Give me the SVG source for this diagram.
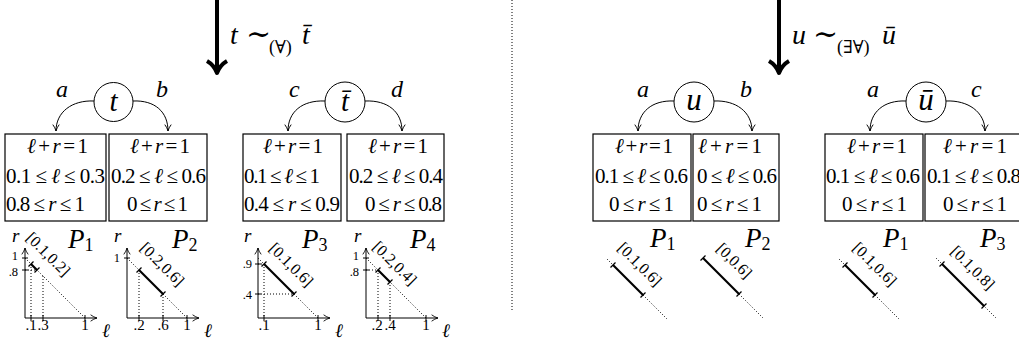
<svg xmlns="http://www.w3.org/2000/svg" width="1019" height="347" viewBox="0 0 1019 347" font-family="'Liberation Serif', 'DejaVu Serif', serif">
<style>
text{font-family:'Liberation Serif','DejaVu Serif',serif;fill:#000}
.i{font-style:italic}
.bx{fill:none;stroke:#000;stroke-width:1.2}
.row{font-size:21px}
.arc{fill:none;stroke:#000;stroke-width:1;marker-end:url(#vee)}
.big{fill:none;stroke:#000;stroke-width:4}
.dot{fill:none;stroke:#000;stroke-width:1;stroke-dasharray:1 2}
.seg{fill:none;stroke:#000;stroke-width:2.2}
.bar{stroke:#000;stroke-width:1.3}
.ax{stroke:#000;stroke-width:1;marker-end:url(#ax)}
.tk{stroke:#000;stroke-width:1}
.num{font-size:15px;text-anchor:middle}
.numr{font-size:12.5px;text-anchor:end}
.lab{font-size:16px;text-anchor:middle}
.ptl{font-size:27px;font-style:italic}
.sub{font-size:18px;font-style:normal}
.node{fill:#fff;stroke:#000;stroke-width:1}
</style>
<defs>
<marker id="vee" viewBox="0 0 10 10" refX="9" refY="5" markerWidth="8" markerHeight="8" orient="auto" markerUnits="userSpaceOnUse">
<path d="M1,1 Q5,4 9,5 Q5,6 1,9" fill="none" stroke="#000" stroke-width="1.2"/>
</marker>
<marker id="ax" viewBox="0 0 10 10" refX="9" refY="5" markerWidth="8" markerHeight="8" orient="auto" markerUnits="userSpaceOnUse">
<path d="M1,1 Q5,4 9,5 Q5,6 1,9" fill="none" stroke="#000" stroke-width="1.1"/>
</marker>
</defs>

<!-- separator -->
<line x1="512" y1="0" x2="512" y2="310" class="dot" stroke="#888"/>

<!-- big arrows and labels -->
<g id="step-left">
<line x1="217" y1="0" x2="217" y2="70" class="big"/>
<path d="M207,61 Q214,65 217,73 Q220,65 227,61" class="big" stroke-linejoin="round"/>
<text x="230" y="44" font-size="28"><tspan class="i">t</tspan><tspan x="246" font-size="30">∼</tspan><tspan x="269" y="53" font-size="18">(∀)</tspan><tspan x="302" y="44" class="i">t̄</tspan></text>
</g>
<g id="step-right">
<line x1="779" y1="0" x2="779" y2="70" class="big"/>
<path d="M769,61 Q776,65 779,73 Q782,65 789,61" class="big" stroke-linejoin="round"/>
<text x="792" y="44" font-size="28"><tspan class="i">u</tspan><tspan x="813" font-size="30">∼</tspan><tspan x="837" y="53" font-size="18">(∃∀)</tspan><tspan x="882" y="44" class="i">ū</tspan></text>
</g>

<!-- connectors -->
<g id="connectors">
<path d="M94,101 C72,100 56,112 56,131" class="arc"/>
<path d="M133,101 C155,100 168,112 168,131" class="arc"/>
<path d="M325,101 C302,100 288,112 288,131" class="arc"/>
<path d="M365,101 C388,100 402,112 402,131" class="arc"/>
<path d="M674,101 C652,100 638,112 638,131" class="arc"/>
<path d="M714,101 C736,100 752,112 752,131" class="arc"/>
<path d="M906,101 C884,100 870,112 870,131" class="arc"/>
<path d="M946,101 C968,100 985,112 985,131" class="arc"/>
<text x="56" y="97" class="i" font-size="24">a</text>
<text x="156" y="97" class="i" font-size="24">b</text>
<text x="289" y="97" class="i" font-size="24">c</text>
<text x="391" y="97" class="i" font-size="24">d</text>
<text x="637" y="97" class="i" font-size="24">a</text>
<text x="740" y="97" class="i" font-size="24">b</text>
<text x="867" y="97" class="i" font-size="24">a</text>
<text x="971" y="97" class="i" font-size="24">c</text>
</g>

<!-- nodes -->
<g id="node-t"><circle cx="113.5" cy="102" r="19.5" class="node"/><text x="113.5" y="111" font-size="29" class="i" text-anchor="middle">t</text></g>
<g id="node-tbar"><circle cx="345" cy="102" r="20" class="node"/><text x="345" y="111" font-size="29" class="i" text-anchor="middle">t̄</text></g>
<g id="node-u"><circle cx="694" cy="102" r="20" class="node"/><text x="694" y="110" font-size="31" class="i" text-anchor="middle">u</text></g>
<g id="node-ubar"><circle cx="926" cy="102" r="20" class="node"/><text x="926" y="110" font-size="31" class="i" text-anchor="middle">ū</text></g>

<!-- boxes -->
<g id="box-t1">
<rect x="5" y="134" width="101" height="87" class="bx"/>
<text x="27" y="153" class="row" textLength="61"><tspan class="i">ℓ</tspan> + <tspan class="i">r</tspan> = 1</text>
<text x="6" y="183" class="row" textLength="99">0.1 ≤ <tspan class="i">ℓ</tspan> ≤ 0.3</text>
<text x="6" y="211" class="row" textLength="79">0.8 ≤ <tspan class="i">r</tspan> ≤ 1</text>
</g>
<g id="box-t2">
<rect x="109" y="134" width="98" height="87" class="bx"/>
<text x="130" y="153" class="row" textLength="60"><tspan class="i">ℓ</tspan> + <tspan class="i">r</tspan> = 1</text>
<text x="111" y="183" class="row" textLength="95">0.2 ≤ <tspan class="i">ℓ</tspan> ≤ 0.6</text>
<text x="127" y="211" class="row" textLength="61">0 ≤ <tspan class="i">r</tspan> ≤ 1</text>
</g>
<g id="box-tb1">
<rect x="243" y="134" width="98" height="87" class="bx"/>
<text x="263" y="153" class="row" textLength="60"><tspan class="i">ℓ</tspan> + <tspan class="i">r</tspan> = 1</text>
<text x="244" y="183" class="row" textLength="76">0.1 ≤ <tspan class="i">ℓ</tspan> ≤ 1</text>
<text x="244" y="211" class="row" textLength="96">0.4 ≤ <tspan class="i">r</tspan> ≤ 0.9</text>
</g>
<g id="box-tb2">
<rect x="347" y="134" width="97" height="87" class="bx"/>
<text x="368" y="153" class="row" textLength="60"><tspan class="i">ℓ</tspan> + <tspan class="i">r</tspan> = 1</text>
<text x="349" y="183" class="row" textLength="94">0.2 ≤ <tspan class="i">ℓ</tspan> ≤ 0.4</text>
<text x="365" y="211" class="row" textLength="77">0 ≤ <tspan class="i">r</tspan> ≤ 0.8</text>
</g>
<g id="box-u1">
<rect x="593" y="134" width="98" height="87" class="bx"/>
<text x="615" y="153" class="row" textLength="58"><tspan class="i">ℓ</tspan> + <tspan class="i">r</tspan> = 1</text>
<text x="595" y="183" class="row" textLength="93">0.1 ≤ <tspan class="i">ℓ</tspan> ≤ 0.6</text>
<text x="609" y="211" class="row" textLength="65">0 ≤ <tspan class="i">r</tspan> ≤ 1</text>
</g>
<g id="box-u2">
<rect x="693" y="134" width="86" height="87" class="bx"/>
<text x="698" y="153" class="row" textLength="64"><tspan class="i">ℓ</tspan> + <tspan class="i">r</tspan> = 1</text>
<text x="697" y="183" class="row" textLength="80">0 ≤ <tspan class="i">ℓ</tspan> ≤ 0.6</text>
<text x="697" y="211" class="row" textLength="65">0 ≤ <tspan class="i">r</tspan> ≤ 1</text>
</g>
<g id="box-ub1">
<rect x="825" y="134" width="98" height="87" class="bx"/>
<text x="847" y="153" class="row" textLength="60"><tspan class="i">ℓ</tspan> + <tspan class="i">r</tspan> = 1</text>
<text x="826" y="183" class="row" textLength="94">0.1 ≤ <tspan class="i">ℓ</tspan> ≤ 0.6</text>
<text x="842" y="211" class="row" textLength="65">0 ≤ <tspan class="i">r</tspan> ≤ 1</text>
</g>
<g id="box-ub2">
<rect x="925" y="134" width="98" height="87" class="bx"/>
<text x="943" y="153" class="row" textLength="64"><tspan class="i">ℓ</tspan> + <tspan class="i">r</tspan> = 1</text>
<text x="927" y="183" class="row" textLength="94">0.1 ≤ <tspan class="i">ℓ</tspan> ≤ 0.8</text>
<text x="943" y="211" class="row" textLength="64">0 ≤ <tspan class="i">r</tspan> ≤ 1</text>
</g>

<!-- left plots -->
<g id="plot-P1">
<line x1="25" y1="318" x2="25" y2="248" class="ax"/>
<line x1="25" y1="318" x2="97" y2="318" class="ax"/>
<line x1="25" y1="258" x2="85" y2="318" class="dot"/>
<path d="M22,258H28M22,270H28M31,315V321M43,315V321M85,315V321" class="tk"/>
<path d="M31,264V318M43,276V318M25,270H37" class="dot"/>
<line x1="31" y1="264" x2="37" y2="270" class="seg"/>
<path d="M28.5,266.5L33.5,261.5M34.5,272.5L39.5,267.5" class="bar"/>
<text x="18" y="260" class="numr">1</text><text x="18" y="276" class="numr">.8</text>
<text x="31" y="330" class="num">.1</text><text x="43" y="330" class="num">.3</text><text x="85" y="330" class="num">1</text>
<text x="12" y="242" font-size="19" class="i">r</text>
<text x="102" y="337" font-size="19" class="i">ℓ</text>
<text x="68" y="248" class="ptl">P<tspan class="sub" dy="3">1</tspan></text>
<text class="lab" transform="translate(48.5,254) rotate(45)" dy="0.35em">[0.1,0.2]</text>
</g>
<g id="plot-P2">
<line x1="127" y1="318" x2="127" y2="248" class="ax"/>
<line x1="127" y1="318" x2="199" y2="318" class="ax"/>
<line x1="127" y1="258" x2="187" y2="318" class="dot"/>
<path d="M124,258H130M139,315V321M163,315V321M187,315V321" class="tk"/>
<path d="M139,270V318M163,294V318" class="dot"/>
<line x1="139" y1="270" x2="163" y2="294" class="seg"/>
<path d="M136.5,272.5L141.5,267.5M160.5,296.5L165.5,291.5" class="bar"/>
<text x="120" y="262" class="numr">1</text>
<text x="139" y="330" class="num">.2</text><text x="163" y="330" class="num">.6</text><text x="187" y="330" class="num">1</text>
<text x="114" y="242" font-size="19" class="i">r</text>
<text x="204" y="337" font-size="19" class="i">ℓ</text>
<text x="172" y="248" class="ptl">P<tspan class="sub" dy="3">2</tspan></text>
<text class="lab" transform="translate(162.5,264) rotate(45)" dy="0.35em">[0.2,0.6]</text>
</g>
<g id="plot-P3">
<line x1="258" y1="318" x2="258" y2="248" class="ax"/>
<line x1="258" y1="318" x2="330" y2="318" class="ax"/>
<line x1="258" y1="258" x2="318" y2="318" class="dot"/>
<path d="M255,264H261M255,294H261M264,315V321M318,315V321" class="tk"/>
<path d="M264,264V318M258,264H264M258,294H294" class="dot"/>
<line x1="264" y1="264" x2="294" y2="294" class="seg"/>
<path d="M261.5,266.5L266.5,261.5M291.5,296.5L296.5,291.5" class="bar"/>
<text x="252" y="268" class="numr" font-size="15">.9</text><text x="252" y="299" class="numr" font-size="15">.4</text>
<text x="264" y="330" class="num">.1</text><text x="318" y="330" class="num">1</text>
<text x="244" y="242" font-size="19" class="i">r</text>
<text x="335" y="337" font-size="19" class="i">ℓ</text>
<text x="302" y="248" class="ptl">P<tspan class="sub" dy="3">3</tspan></text>
<text class="lab" transform="translate(291.5,264.5) rotate(45)" dy="0.35em">[0.1,0.6]</text>
</g>
<g id="plot-P4">
<line x1="366" y1="318" x2="366" y2="248" class="ax"/>
<line x1="366" y1="318" x2="438" y2="318" class="ax"/>
<line x1="366" y1="258" x2="426" y2="318" class="dot"/>
<path d="M363,258H369M363,270H369M378,315V321M390,315V321M426,315V321" class="tk"/>
<path d="M378,270V318M390,282V318M366,270H378" class="dot"/>
<line x1="378" y1="270" x2="390" y2="282" class="seg"/>
<path d="M375.5,272.5L380.5,267.5M387.5,284.5L392.5,279.5" class="bar"/>
<text x="359" y="260" class="numr">1</text><text x="359" y="276" class="numr">.8</text>
<text x="377" y="330" class="num">.2</text><text x="390" y="330" class="num">.4</text><text x="426" y="330" class="num">1</text>
<text x="354" y="242" font-size="19" class="i">r</text>
<text x="442" y="337" font-size="19" class="i">ℓ</text>
<text x="410" y="248" class="ptl">P<tspan class="sub" dy="3">4</tspan></text>
<text class="lab" transform="translate(395,263) rotate(45)" dy="0.35em">[0.2,0.4]</text>
</g>

<!-- right plots -->
<g id="plot-R1">
<line x1="607" y1="259" x2="667" y2="319" class="dot"/>
<line x1="613" y1="265" x2="643" y2="295" class="seg"/>
<path d="M610.5,267.5L615.5,262.5M640.5,297.5L645.5,292.5" class="bar"/>
<text x="650" y="247" class="ptl">P<tspan class="sub" dy="3">1</tspan></text>
<text class="lab" transform="translate(640,264) rotate(45)" dy="0.35em">[0.1,0.6]</text>
</g>
<g id="plot-R2">
<line x1="703" y1="258" x2="763" y2="318" class="dot"/>
<line x1="703" y1="258" x2="739" y2="294" class="seg"/>
<path d="M700.5,260.5L705.5,255.5M736.5,296.5L741.5,291.5" class="bar"/>
<text x="745" y="247" class="ptl">P<tspan class="sub" dy="3">2</tspan></text>
<text class="lab" transform="translate(734.5,260.5) rotate(45)" dy="0.35em">[0,0.6]</text>
</g>
<g id="plot-R3">
<line x1="839" y1="259" x2="899" y2="319" class="dot"/>
<line x1="845" y1="265" x2="875" y2="295" class="seg"/>
<path d="M842.5,267.5L847.5,262.5M872.5,297.5L877.5,292.5" class="bar"/>
<text x="883" y="247" class="ptl">P<tspan class="sub" dy="3">1</tspan></text>
<text class="lab" transform="translate(875,264) rotate(45)" dy="0.35em">[0.1,0.6]</text>
</g>
<g id="plot-R4">
<line x1="936" y1="258" x2="996" y2="318" class="dot"/>
<line x1="942" y1="264" x2="984" y2="306" class="seg"/>
<path d="M939.5,266.5L944.5,261.5M981.5,308.5L986.5,303.5" class="bar"/>
<text x="980" y="247" class="ptl">P<tspan class="sub" dy="3">3</tspan></text>
<text class="lab" transform="translate(973,267.5) rotate(45)" dy="0.35em">[0.1,0.8]</text>
</g>
</svg>
